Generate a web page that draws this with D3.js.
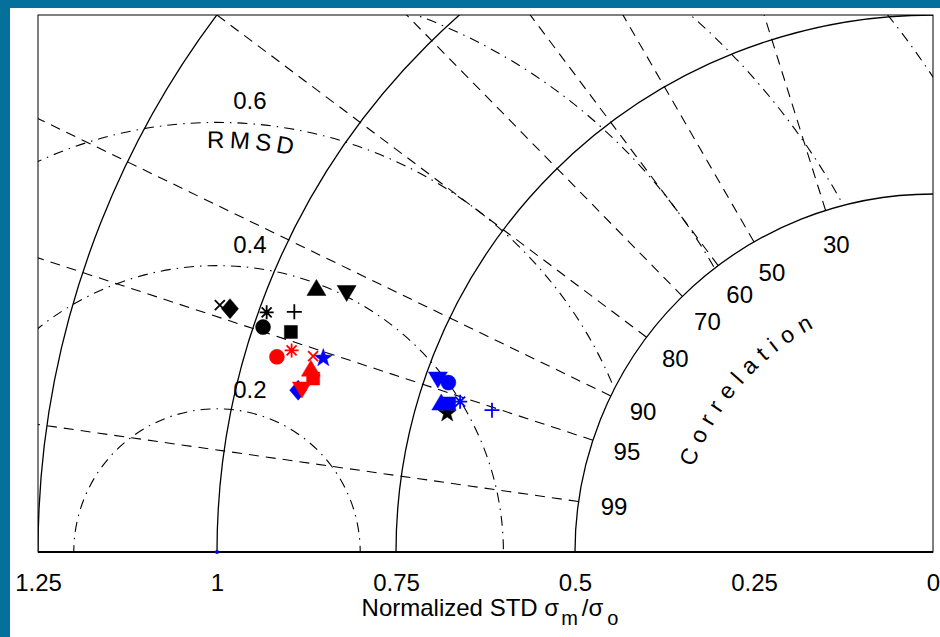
<!DOCTYPE html>
<html>
<head>
<meta charset="utf-8">
<script src="https://cdn.jsdelivr.net/npm/d3@7"></script>
<style>
  body { margin: 0; background: #04709b; }
  svg { display: block; }
  text { font-family: 'Liberation Sans', Arial, sans-serif; fill: #000; }
</style>
</head>
<body>
<svg id="taylor"></svg>
<script>
(function(d3) {
    'use strict';

    // --- data ---
    var stdArcs = [0.5, 0.75, 1, 1.25];
    var corrLines = [0.3, 0.5, 0.6, 0.7, 0.8, 0.9, 0.95, 0.99];
    var rmsCircles = [0.2, 0.4, 0.6, 0.8, 1.0, 1.2];
    var rmsLabels = [0.2, 0.4, 0.6];
    var stdTicks = [1.25, 1, 0.75, 0.5, 0.25, 0];

    var markerTypes = ['x', 'diamond', 'asterisk', 'plus', 'circle', 'square', 'triangleUp', 'triangleDown', 'star'];

    var blackStd = [1.054, 1.039, 0.989, 0.953, 0.987, 0.948, 0.937, 0.895, 0.706];
    var blackCor = [0.945, 0.945, 0.941, 0.936, 0.948, 0.946, 0.919, 0.915, 0.961];

    var blueStd = [null, 0.915, 0.693, 0.647, 0.717, 0.707, 0.718, 0.732, 0.894];
    var blueCor = [null, 0.969, 0.953, 0.952, 0.944, 0.956, 0.9565, 0.9446, 0.9525];

    var redStd = [0.908, null, 0.939, null, 0.956, 0.899, 0.906, 0.910, null];
    var redCor = [0.9535, null, 0.954, null, 0.9585, 0.963, 0.959, 0.9686, null];

    var series = [
        { color: '#000000', std: blackStd, cor: blackCor },
        { color: '#0000ff', std: blueStd, cor: blueCor },
        { color: '#ff0000', std: redStd, cor: redCor }
    ];

    var width = 940, height = 637;
    var frame = { left: 38, top: 15, right: 933, bottom: 552 };

    // x: std * corr (mirrored), y: std * sin
    var x = d3.scaleLinear().domain([0, 1.25]).range([frame.right, frame.left]),
        y = d3.scaleLinear().domain([0, 0.75]).range([frame.bottom, frame.top]);
    var unit = x(0) - x(1);

    var svg = d3.select('#taylor')
        .attr('width', width)
        .attr('height', height);

    svg.append('rect')
        .attr('x', 10).attr('y', 8)
        .attr('width', width - 10).attr('height', height - 8)
        .attr('fill', '#fff');

    var ox = x(0), oy = y(0);

    // clip: frame minus the quarter disk inside std = 0.5
    var defs = svg.append('defs');
    var rIn = 0.5 * unit;
    defs.append('clipPath').attr('id', 'annulus')
        .append('path')
        .attr('clip-rule', 'evenodd')
        .attr('d', 'M' + frame.left + ',' + frame.top + 'H' + frame.right + 'V' + frame.bottom + 'H' + frame.left + 'Z' +
            'M' + ox + ',' + oy + 'L' + (ox - rIn) + ',' + oy +
            'A' + rIn + ',' + rIn + ' 0 0,1 ' + ox + ',' + (oy - rIn) + 'Z');
    defs.append('clipPath').attr('id', 'frame')
        .append('rect')
        .attr('x', frame.left).attr('y', frame.top)
        .attr('width', frame.right - frame.left).attr('height', frame.bottom - frame.top);

    var grid = svg.append('g').attr('clip-path', 'url(#annulus)');

    // correlation rays
    grid.selectAll('.corr')
        .data(corrLines)
        .enter()
        .append('line')
        .attr('class', 'corr')
        .attr('x1', function (d) { return x(0.5 * d); })
        .attr('y1', function (d) { return y(0.5 * Math.sqrt(1 - d * d)); })
        .attr('x2', function (d) { return x(2 * d); })
        .attr('y2', function (d) { return y(2 * Math.sqrt(1 - d * d)); })
        .attr('stroke', '#000')
        .attr('stroke-width', 1.1)
        .attr('stroke-dasharray', '10,7');

    // RMSD circles round the reference point
    grid.selectAll('.rms')
        .data(rmsCircles)
        .enter()
        .append('circle')
        .attr('class', 'rms')
        .attr('cx', x(1))
        .attr('cy', y(0))
        .attr('r', function (d) { return d * unit; })
        .attr('fill', 'none')
        .attr('stroke', '#000')
        .attr('stroke-width', 1.1)
        .attr('stroke-dasharray', '10,6,1.5,6');

    // std arcs
    svg.append('g').attr('clip-path', 'url(#frame)')
        .selectAll('circle')
        .data(stdArcs)
        .enter()
        .append('circle')
        .attr('cx', ox)
        .attr('cy', oy)
        .attr('r', function (d) { return d * unit; })
        .attr('fill', 'none')
        .attr('stroke', '#000')
        .attr('stroke-width', 1.3);

    // frame
    svg.append('rect')
        .attr('x', frame.left).attr('y', frame.top)
        .attr('width', frame.right - frame.left).attr('height', frame.bottom - frame.top)
        .attr('fill', 'none')
        .attr('stroke', '#000')
        .attr('stroke-width', 1);
    svg.append('line')
        .attr('x1', frame.left).attr('x2', frame.right)
        .attr('y1', frame.bottom).attr('y2', frame.bottom)
        .attr('stroke', '#000')
        .attr('stroke-width', 2);

    // correlation labels
    svg.append('g')
        .selectAll('text')
        .data(corrLines)
        .enter()
        .append('text')
        .attr('x', function (d) { return x(0.45 * d); })
        .attr('y', function (d) { return y(0.45 * Math.sqrt(1 - d * d)); })
        .attr('text-anchor', 'middle')
        .attr('dominant-baseline', 'central')
        .style('font-size', '24px')
        .text(function (d) { return Math.round(d * 100); });

    // "Correlation" letter by letter along an arc round the origin
    var rc = 254, spacing = 7.6, startDeg = 19.5;
    var letters = 'Correlation'.split('');
    var probe = svg.append('text').style('font-size', '23px');
    var s = startDeg * Math.PI / 180 * rc;
    var corrTitle = svg.append('g');
    letters.forEach(function (ch) {
        probe.text(ch);
        var w = probe.node().getComputedTextLength();
        var th = (s + w / 2) / rc;
        corrTitle.append('text')
            .attr('text-anchor', 'middle')
            .attr('transform', 'translate(' + (ox - rc * Math.cos(th)) + ',' + (oy - rc * Math.sin(th)) + ') rotate(' + (th * 180 / Math.PI - 90) + ')')
            .style('font-size', '23px')
            .text(ch);
        s += w + spacing;
    });
    probe.remove();

    // RMSD labels
    var lx = 0.046;
    svg.append('g')
        .selectAll('text')
        .data(rmsLabels)
        .enter()
        .append('text')
        .attr('x', x(1 - lx))
        .attr('y', function (d) { return y(Math.sqrt(d * d - lx * lx)) - 15; })
        .attr('text-anchor', 'middle')
        .style('font-size', '24px')
        .text(function (d) { return d; });

    // "RMSD" along a circle round the reference
    var rr = 404, cx = x(1), cy = y(0), p0 = -40 * Math.PI / 180, p1 = 40 * Math.PI / 180;
    defs.append('path')
        .attr('id', 'rmsArc')
        .attr('d', 'M' + (cx + rr * Math.sin(p0)) + ',' + (cy - rr * Math.cos(p0)) +
            'A' + rr + ',' + rr + ' 0 0,1 ' + (cx + rr * Math.sin(p1)) + ',' + (cy - rr * Math.cos(p1)));
    svg.append('text')
        .style('font-size', '24px')
        .style('letter-spacing', '5px')
        .append('textPath')
        .attr('href', '#rmsArc')
        .attr('startOffset', (40 + Math.asin((207 - cx) / rr) * 180 / Math.PI) * Math.PI / 180 * rr)
        .text('RMSD');

    // x axis
    var axis = svg.append('g')
        .attr('transform', 'translate(0,' + frame.bottom + ')')
        .call(d3.axisBottom(x).tickValues(stdTicks).tickSize(0).tickPadding(22).tickFormat(d3.format('~g')));
    axis.select('.domain').remove();
    axis.selectAll('text')
        .style('font-size', '24px')
        .style('font-family', "'Liberation Sans', Arial, sans-serif");

    var title = svg.append('text')
        .attr('x', 490)
        .attr('y', 616)
        .attr('text-anchor', 'middle')
        .style('font-size', '24px');
    title.append('tspan').text('Normalized STD \u03c3');
    title.append('tspan').attr('dy', 9).attr('dx', 2).style('font-size', '20px').text('m');
    title.append('tspan').attr('dy', -9).attr('dx', 4).text('/\u03c3');
    title.append('tspan').attr('dy', 9).attr('dx', 4).style('font-size', '20px').text('o');

    // reference point
    svg.append('circle')
        .attr('cx', x(1)).attr('cy', y(0))
        .attr('r', 2)
        .attr('fill', '#0000ff');

    // marker shapes
    function star(R, r) {
        var pts = [];
        for (var i = 0; i < 10; i++) {
            var a = -Math.PI / 2 + i * Math.PI / 5, rad = i % 2 ? r : R;
            pts.push([rad * Math.cos(a), rad * Math.sin(a) + 1]);
        }
        return 'M' + pts.join('L') + 'Z';
    }
    var shapes = {
        x: { d: 'M-5,-5L5,5M-5,5L5,-5', fill: false },
        plus: { d: 'M-7.5,0H7.5M0,-7.5V7.5', fill: false },
        asterisk: { d: 'M-7,0H7M0,-7V7M-5,-5L5,5M-5,5L5,-5', fill: false },
        circle: { d: 'M-7.5,0A7.5,7.5 0 1,0 7.5,0A7.5,7.5 0 1,0 -7.5,0Z', fill: true },
        square: { d: 'M-6.5,-6.5H6.5V6.5H-6.5Z', fill: true },
        diamond: { d: 'M0,-10L8.5,0L0,10L-8.5,0Z', fill: true },
        triangleUp: { d: 'M0,-8L9.5,8L-9.5,8Z', fill: true },
        triangleDown: { d: 'M0,8L9.5,-8L-9.5,-8Z', fill: true },
        star: { d: star(9.5, 3.8), fill: true }
    };

    series.forEach(function (ser) {
        var pts = markerTypes.map(function (m, i) {
            return { m: m, std: ser.std[i], cor: ser.cor[i] };
        }).filter(function (p) { return p.std !== null; });

        svg.append('g')
            .selectAll('path')
            .data(pts)
            .enter()
            .append('path')
            .attr('transform', function (p) {
                return 'translate(' + x(p.std * p.cor) + ',' + y(p.std * Math.sqrt(1 - p.cor * p.cor)) + ')';
            })
            .attr('d', function (p) { return shapes[p.m].d; })
            .attr('fill', function (p) { return shapes[p.m].fill ? ser.color : 'none'; })
            .attr('stroke', ser.color)
            .attr('stroke-width', function (p) { return shapes[p.m].fill ? 0.5 : 1.8; });
    });
})(window.d3);
</script>
</body>
</html>
